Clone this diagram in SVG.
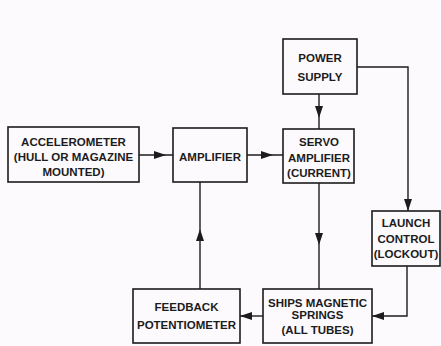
<svg xmlns="http://www.w3.org/2000/svg" width="441" height="346" viewBox="0 0 441 346">
<defs>
<style>
.box{fill:none;stroke:#1c1c1c;stroke-width:1.6}
.ln{fill:none;stroke:#1c1c1c;stroke-width:1.4}
.t{font-family:"Liberation Sans",Arial,sans-serif;font-weight:bold;font-size:11.5px;fill:#1c1c1c;text-anchor:middle}
</style>
<marker id="ah" viewBox="0 0 12 8" refX="12" refY="4" markerWidth="12" markerHeight="8" markerUnits="userSpaceOnUse" orient="auto">
<path d="M0,0 L12,4 L0,8 Z" fill="#1c1c1c"/>
</marker>
</defs>
<rect width="441" height="346" fill="#fcfafc"/>
<g id="connectors">
<path class="ln" d="M139,155 L166,155 L173,155" marker-mid="url(#ah)"/>
<path class="ln" d="M247,155 L273,155 L283,155" marker-mid="url(#ah)"/>
<path class="ln" d="M319,94 L319,118 L319,129" marker-mid="url(#ah)"/>
<path class="ln" d="M357,67 L408,67 L408,211" marker-end="url(#ah)"/>
<path class="ln" d="M319,183 L319,245 L319,289" marker-mid="url(#ah)"/>
<path class="ln" d="M407,266 L407,316 L372,316" marker-end="url(#ah)"/>
<path class="ln" d="M263,316 L240,316" marker-end="url(#ah)"/>
<path class="ln" d="M200,289 L200,229 L200,182" marker-mid="url(#ah)"/>
</g>
<g id="accelerometer">
<rect class="box" x="8" y="127" width="131" height="55"/>
<text class="t" x="73.5" y="145.5">ACCELEROMETER</text>
<text class="t" x="73.5" y="160.5">(HULL OR MAGAZINE</text>
<text class="t" x="73.5" y="175.5">MOUNTED)</text>
</g>
<g id="amplifier">
<rect class="box" x="173" y="128" width="74" height="54"/>
<text class="t" x="210" y="161">AMPLIFIER</text>
</g>
<g id="servo">
<rect class="box" x="283" y="129" width="71" height="54"/>
<text class="t" x="319" y="146">SERVO</text>
<text class="t" x="319" y="162">AMPLIFIER</text>
<text class="t" x="319" y="177">(CURRENT)</text>
</g>
<g id="power">
<rect class="box" x="283" y="39" width="74" height="55"/>
<text class="t" x="320" y="62">POWER</text>
<text class="t" x="320" y="81">SUPPLY</text>
</g>
<g id="launch">
<rect class="box" x="372" y="211" width="68" height="55"/>
<text class="t" x="406" y="227">LAUNCH</text>
<text class="t" x="406" y="243">CONTROL</text>
<text class="t" x="406" y="258">(LOCKOUT)</text>
</g>
<g id="springs">
<rect class="box" x="263" y="289" width="109" height="54"/>
<text class="t" x="317.5" y="307">SHIPS MAGNETIC</text>
<text class="t" x="317.5" y="319">SPRINGS</text>
<text class="t" x="317.5" y="334">(ALL TUBES)</text>
</g>
<g id="feedback">
<rect class="box" x="133" y="289" width="107" height="54"/>
<text class="t" x="186.5" y="311">FEEDBACK</text>
<text class="t" x="186.5" y="329">POTENTIOMETER</text>
</g>
</svg>
